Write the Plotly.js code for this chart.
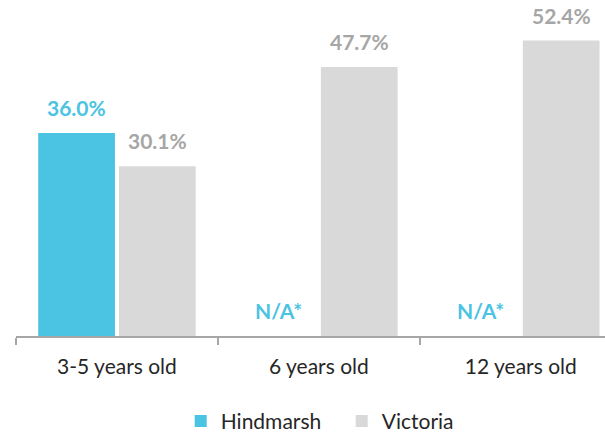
<!DOCTYPE html>
<html>
<head>
<meta charset="utf-8">
<script src="https://cdn.plot.ly/plotly-3.0.1.min.js"></script>
<style>html,body{margin:0;padding:0;background:#fff;}#chart{width:605px;height:433px;}</style>
</head>
<body>
<div id="chart"></div>
<script>
const categories = ["3-5 years old", "6 years old", "12 years old"];
const hindmarsh = [36.0, null, null];
const victoria = [30.1, 47.7, 52.4];
const seriesNames = ["Hindmarsh", "Victoria"];
const naLabel = "N/A*";

const blue = "#4BC3E2";
const grey = "#D9D9D9";
const greyText = "#A6A6A6";
const font = "Lato, 'Open Sans', sans-serif";

const bargap = 0.2;
const barWidth = (1 - bargap) / 2;

const traces = [
  {type: "bar", name: seriesNames[0], x: categories, y: hindmarsh, marker: {color: blue}, hoverinfo: "none"},
  {type: "bar", name: seriesNames[1], x: categories, y: victoria, marker: {color: grey}, hoverinfo: "none"}
];

const annotations = [];
const series = [[hindmarsh, blue, -1], [victoria, greyText, 1]];
series.forEach(([vals, col, side]) => {
  vals.forEach((v, i) => {
    annotations.push({
      xref: "x", yref: "y",
      x: i + side * barWidth / 2,
      y: v === null ? 0 : v,
      text: v === null ? naLabel : v.toFixed(1) + "%",
      showarrow: false,
      yanchor: "bottom",
      yshift: 11,
      font: {family: font, size: 21, color: col, weight: "bold"}
    });
  });
});

const layout = {
  width: 605, height: 433,
  margin: {l: 15.7, r: 0, t: 0, b: 97, autoexpand: false},
  paper_bgcolor: "#fff", plot_bgcolor: "#fff",
  barmode: "group", bargap: bargap, bargroupgap: 0.05,
  showlegend: true,
  legend: {orientation: "h", x: 0.553, xanchor: "center", yref: "container", y: 0.027, yanchor: "middle",
           entrywidth: 116, entrywidthmode: "pixels",
           font: {family: font, size: 21, color: "#262626"}, itemclick: false},
  xaxis: {type: "category", range: [-0.5, 2.417], showline: true, linecolor: "#A6A6A6", linewidth: 1.5,
          ticks: "outside", tickson: "boundaries", ticklen: 7, tickcolor: "#A6A6A6", tickwidth: 1.5,
          showgrid: false, zeroline: false, fixedrange: true, ticklabelstandoff: 11,
          tickfont: {family: font, size: 21, color: "#262626"}},
  yaxis: {range: [0, 59.6], visible: false, showgrid: false, zeroline: false, fixedrange: true},
  annotations: annotations
};

Plotly.newPlot("chart", traces, layout, {displayModeBar: false, staticPlot: true});
</script>
</body>
</html>
